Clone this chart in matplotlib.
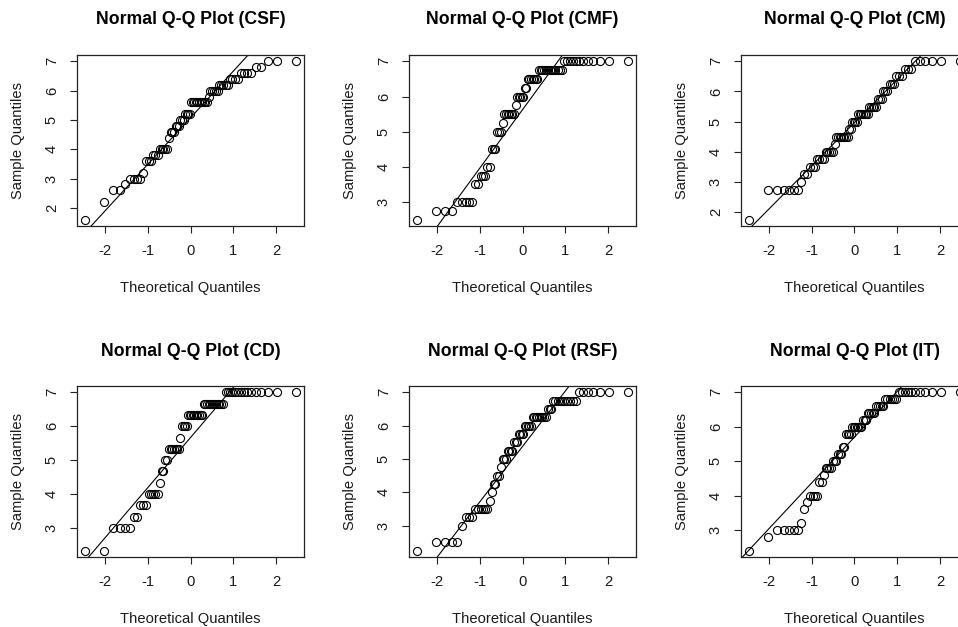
import math
from statistics import NormalDist

import numpy as np
import matplotlib
matplotlib.use("Agg")
import matplotlib.pyplot as plt

plt.rcParams["font.family"] = ["Liberation Sans", "DejaVu Sans"]
plt.rcParams["axes.unicode_minus"] = False

# Frequency tables of the scale scores (value levels and how many respondents have each)
panel_names = ["CSF", "CMF", "CM", "CD", "RSF", "IT"]

csf_levels = [1.6, 2.2, 2.6, 2.8, 3.0, 3.2, 3.6, 3.8, 4.0, 4.4, 4.6, 4.8, 5.0, 5.2,
              5.6, 5.8, 6.0, 6.2, 6.4, 6.6, 6.8, 7.0]
csf_counts = [1, 1, 2, 1, 4, 1, 3, 3, 5, 1, 3, 3, 3, 4, 11, 1, 5, 5, 4, 4, 2, 3]

cmf_levels = [2.5, 2.75, 3.0, 3.5, 3.75, 4.0, 4.5, 5.0, 5.25, 5.5, 5.75, 6.0, 6.25,
              6.5, 6.75, 7.0]
cmf_counts = [1, 3, 5, 2, 3, 2, 3, 3, 1, 7, 1, 5, 2, 7, 13, 12]

cm_levels = [1.75, 2.75, 3.0, 3.25, 3.5, 3.75, 4.0, 4.25, 4.5, 4.75, 5.0, 5.25, 5.5,
             5.75, 6.0, 6.25, 6.5, 6.75, 7.0]
cm_counts = [1, 6, 1, 2, 3, 4, 5, 1, 8, 2, 4, 7, 5, 3, 3, 3, 3, 3, 6]

cd_levels = [2.333, 3.0, 3.333, 3.667, 4.0, 4.333, 4.667, 5.0, 5.333, 5.667, 6.0,
             6.333, 6.667, 7.0]
cd_counts = [2, 4, 2, 3, 5, 1, 2, 2, 7, 1, 4, 10, 12, 15]

rsf_levels = [2.25, 2.5, 3.0, 3.25, 3.5, 3.75, 4.0, 4.25, 4.5, 4.75, 5.0, 5.25, 5.5,
              5.75, 6.0, 6.25, 6.5, 6.75, 7.0]
rsf_counts = [1, 4, 1, 3, 6, 1, 1, 2, 2, 1, 3, 4, 3, 4, 5, 9, 3, 10, 7]

it_levels = [2.4, 2.8, 3.0, 3.2, 3.6, 3.8, 4.0, 4.4, 4.6, 4.8, 5.0, 5.2, 5.4, 5.8,
             6.0, 6.2, 6.4, 6.6, 6.8, 7.0]
it_counts = [1, 1, 5, 1, 1, 1, 4, 2, 1, 4, 3, 3, 2, 4, 7, 3, 5, 5, 6, 11]

panel_levels = [csf_levels, cmf_levels, cm_levels, cd_levels, rsf_levels, it_levels]
panel_counts = [csf_counts, cmf_counts, cm_counts, cd_counts, rsf_counts, it_counts]

nd = NormalDist()


def ppoints(n):
    a = 3 / 8 if n <= 10 else 0.5
    return [(i - a) / (n + 1 - 2 * a) for i in range(1, n + 1)]


def padded(lo, hi, frac=0.04):
    r = hi - lo
    return lo - frac * r, hi + frac * r


# Page geometry in pixels
W, H = 958, 627
col_left = [77, 409, 741]
row_top = [55, 386]
aw, ah = 227, 171

fig = plt.figure(figsize=(W / 100, H / 100), dpi=100)
fig.patch.set_facecolor("white")

ink = "#1a1a1a"
label_size = 10.6

for k, name in enumerate(panel_names):
    r, c = divmod(k, 3)
    left, top = col_left[c], row_top[r]
    ax = fig.add_axes([left / W, 1 - (top + ah) / H, aw / W, ah / H])

    y = np.repeat(np.array(panel_levels[k], dtype=float), panel_counts[k])
    y.sort()
    n = len(y)
    x = np.array([nd.inv_cdf(p) for p in ppoints(n)])

    ax.plot(x, y, linestyle="none", marker="o", markersize=5.8,
            markerfacecolor="none", markeredgecolor="black", markeredgewidth=0.8)

    # Reference line through the first and third quartiles
    yq = np.quantile(y, [0.25, 0.75])
    xq = np.array([nd.inv_cdf(0.25), nd.inv_cdf(0.75)])
    slope = (yq[1] - yq[0]) / (xq[1] - xq[0])
    intercept = yq[0] - slope * xq[0]
    ax.axline((0, intercept), slope=slope, color="black", linewidth=0.8)

    xlo, xhi = padded(x.min(), x.max())
    ylo, yhi = padded(y.min(), y.max())
    ax.set_xlim(xlo, xhi)
    ax.set_ylim(ylo, yhi)
    ax.set_xticks([-2, -1, 0, 1, 2])
    ax.set_yticks(list(range(math.ceil(ylo), math.floor(yhi) + 1)))

    for s in ax.spines.values():
        s.set_linewidth(0.9)
        s.set_color("#222222")
    ax.tick_params(direction="out", length=5, width=0.8, color="#222222",
                   labelsize=label_size, labelcolor=ink)
    ax.tick_params(axis="x", pad=8)
    ax.tick_params(axis="y", pad=8, labelrotation=90)
    for lab in ax.get_yticklabels():
        lab.set_verticalalignment("center")

    ax.text(0.5, 1 + 35 / ah, f"Normal Q-Q Plot ({name})", transform=ax.transAxes,
            ha="center", va="center", fontsize=12.7, fontweight="bold", color="black")
    ax.text(0.5, -62 / ah, "Theoretical Quantiles", transform=ax.transAxes,
            ha="center", va="center", fontsize=label_size, color=ink)
    ax.text(-59 / aw, 0.5, "Sample Quantiles", transform=ax.transAxes,
            ha="center", va="center", rotation=90, fontsize=label_size, color=ink)

fig.savefig("out.png", dpi=100, facecolor="white")
